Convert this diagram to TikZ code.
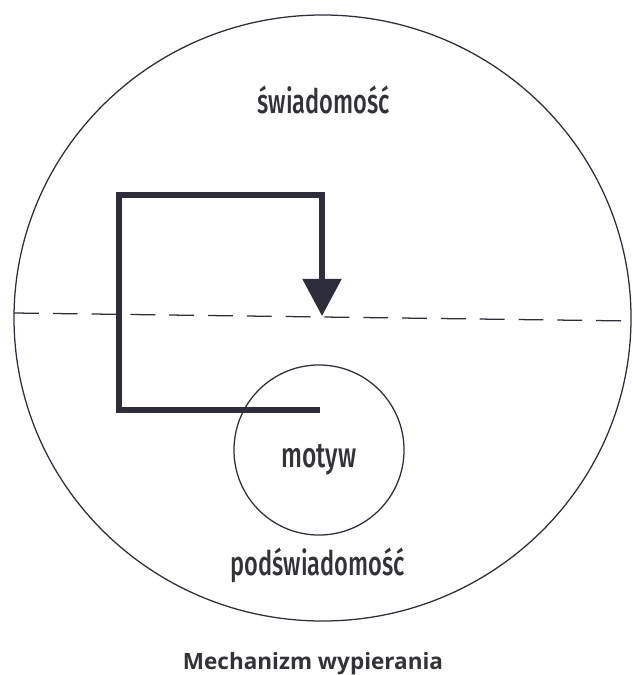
\documentclass[tikz,border=0pt]{standalone}
\usepackage{fontspec}
\setmainfont{Open Sans}
\newfontfamily\narrowfont[FakeStretch=0.7,UprightFont=* Medium]{Fira Sans}
\usepackage{tikz}
\usetikzlibrary{arrows.meta}

\definecolor{inkline}{RGB}{45,45,60}
\definecolor{inktext}{RGB}{50,50,55}

\begin{document}
\begin{tikzpicture}[x=0.025cm,y=-0.025cm,
  thinline/.style={draw=inkline,line width=0.9pt},
  pathline/.style={draw=inkline,line width=4.2pt,line join=miter},
  label/.style={font=\narrowfont\fontsize{24}{28}\selectfont,text=inktext,inner sep=0pt}]
  \useasboundingbox (0,0) rectangle (632,675);
  \draw[thinline] (322.5,318) ellipse [x radius=308.5, y radius=303];
  \coordinate (lineL) at (14,313);
  \coordinate (lineR) at (631,321);
  \draw[thinline,dash pattern=on 17.7pt off 9.9pt] (lineL) -- (lineR);
  \node[label] (swiad) at (324,100) {świadomość};
  \node[label] (podsw) at (318,565) {podświadomość};
  \node[circle,thinline,minimum size=4.25cm,inner sep=0pt] (motyw) at (319,450) {};
  \node[label,font=\narrowfont\fontsize{25}{28}\selectfont] (motywtxt) at (319,460) {motyw};
  \coordinate (start) at (320,410);
  \coordinate (tip) at (322,316);
  \draw[pathline,-{Triangle[length=9.3mm,width=9.5mm]}] (start) -- (119,410) -- (119,195) -- (322,195) -- (tip);
  \node[font=\bfseries\fontsize{16}{18}\selectfont,text=inktext,inner sep=0pt] (caption) at (313,664) {Mechanizm wypierania};
\end{tikzpicture}
\end{document}
